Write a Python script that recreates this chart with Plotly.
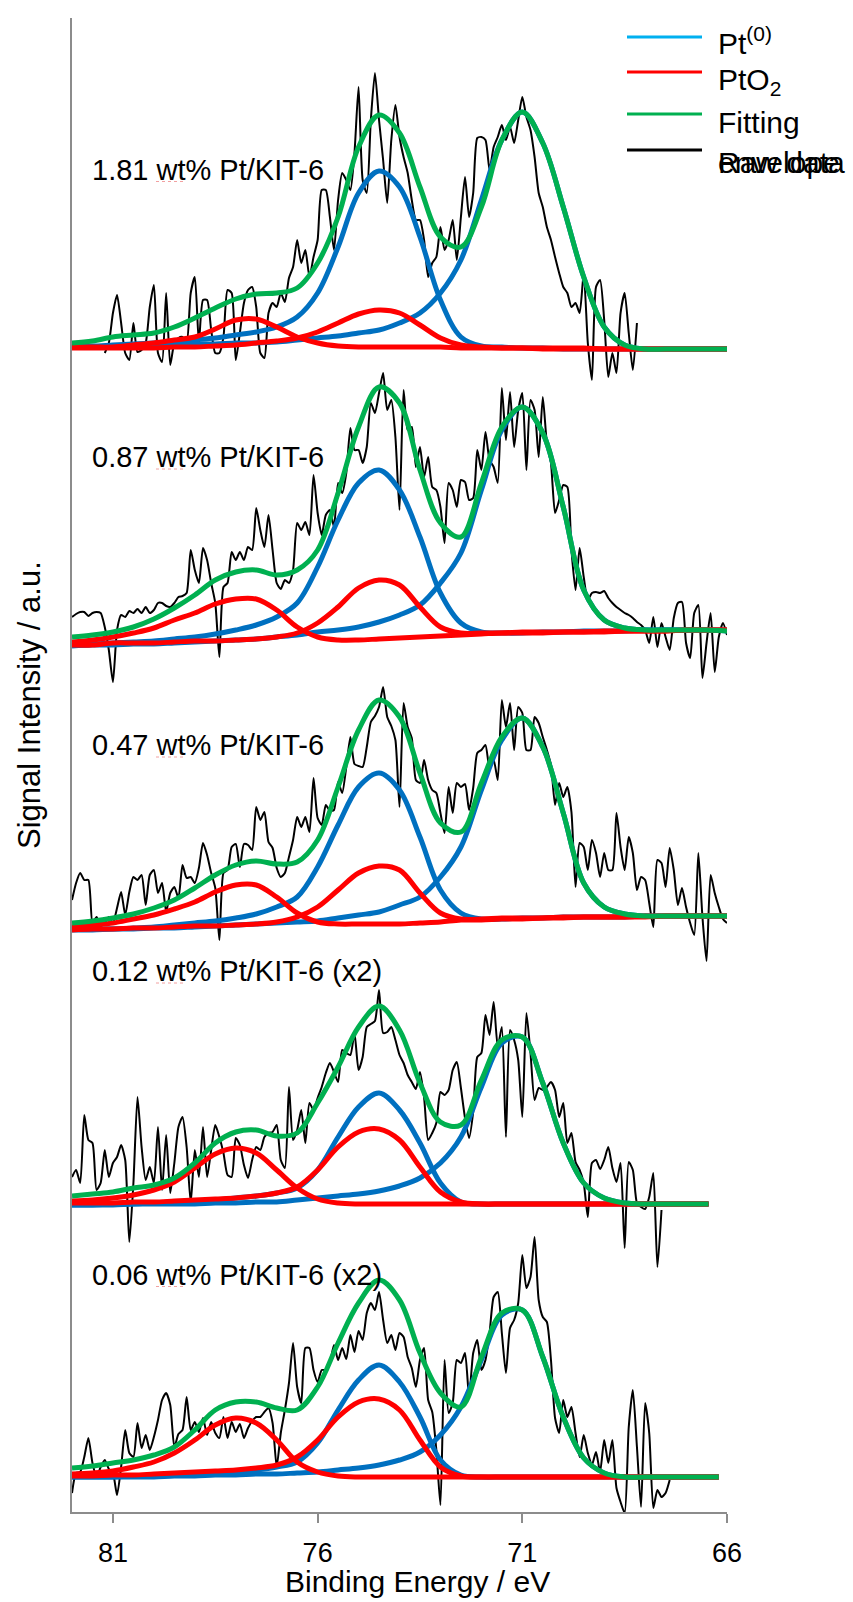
import plotly.graph_objects as go

# ---------------- data ----------------
panel_labels = ["1.81 wt% Pt/KIT-6", "0.87 wt% Pt/KIT-6", "0.47 wt% Pt/KIT-6",
                "0.12 wt% Pt/KIT-6 (x2)", "0.06 wt% Pt/KIT-6 (x2)"]
panel_offsets = [1163, 882, 596, 308, 35]
label_y = [1342.5, 1055, 767, 541, 237.5]

x_ticks = [81, 76, 71, 66]

fit_grid = [82.0, 81.5, 81.0, 80.5, 80.0, 79.5, 79.0, 78.5, 78.0, 77.5, 77.0,
            76.5, 76.0, 75.5, 75.0, 74.5, 74.0, 73.5, 73.0, 72.5, 72.0, 71.5,
            71.0, 70.5, 70.0, 69.5, 69.0, 68.5, 68.0, 67.5, 67.0, 66.5, 66.0]
fit_end = [66.0, 66.0, 66.0, 66.45, 66.2]

raw_start = [81.2, 82.0, 82.0, 82.0, 82.0]
raw_step = 0.1

# Panel 1 : 1.81 wt%
fit1_pt_a = [3, 3, 4, 5, 6, 7, 9, 11, 14, 17, 22, 32, 56, 102, 156, 178, 162, 112, 49, 12, 3, 2, 1, 1, 0, 0, 0, 0, 0, 0, 0, 0, 0]
fit1_pt_b = [2, 2, 3, 3, 4, 4, 5, 5, 6, 6, 7, 9, 11, 13, 16, 19, 26, 36, 56, 89, 149, 209, 237, 206, 142, 72, 22, 4, 0, 0, 0, 0, 0]
fit1_ox_a = [2, 2, 2, 4, 6, 9, 12, 20, 29, 30, 22, 12, 6, 3, 2, 2, 2, 2, 2, 1, 1, 1, 1, 1, 1, 1, 0, 0, 0, 0, 0, 0, 0]
fit1_ox_b = [1, 1, 1, 1, 1, 2, 2, 3, 4, 6, 8, 11, 17, 26, 35, 39, 36, 24, 11, 4, 2, 1, 1, 0, 0, 0, 0, 0, 0, 0, 0, 0, 0]
fit1_env = [6, 8, 12, 14, 16, 22, 31, 41, 50, 55, 56, 61, 86, 132, 202, 234, 216, 162, 112, 102, 142, 209, 237, 206, 142, 72, 22, 4, 0, 0, 0, 0, 0]
raw1 = [-4, 6, 36, 54, 26, -4, -11, 26, -3, -1,
        6, 42, 64, -4, -13, 56, -16, 6, 11, 12,
        6, 56, 72, 6, 49, 49, 19, -4, -4, 12,
        59, 56, -11, 16, 46, 59, 62, 42, -4, -9,
        36, 46, 42, 56, 47, 71, 82, 109, 86, 99,
        72, 92, 109, 159, 159, 132, 99, 149, 176, 169,
        159, 196, 262, 169, 156, 229, 276, 229, 189, 146,
        209, 244, 212, 192, 176, 149, 129, 129, 109, 72,
        86, 92, 122, 99, 109, 129, 89, 132, 172, 132,
        156, 211, 212, 209, 179, 202, 212, 224, 209, 222,
        206, 229, 252, 232, 219, 192, 156, 142, 122, 109,
        92, 76, 62, 56, 42, 46, 36, 76, 6, -31,
        62, 69, 29, -28, -4, -24, 36, 56, 16, -21,
        26]

# Panel 2 : 0.87 wt%
fit2_pt_a = [-15, -14, -13, -12, -11, -9, -7, -4, 0, 5, 13, 27, 63, 110, 147, 160, 140, 93, 37, 7, -2, -3, -3, -2, -2, -1, -1, -1, 0, 0, 0, 0, 0]
fit2_pt_b = [-16, -15, -15, -14, -14, -13, -12, -11, -10, -9, -7, -5, -2, 0, 3, 8, 15, 25, 47, 77, 140, 200, 223, 197, 123, 40, 10, 2, 0, 0, 0, 0, -1]
fit2_ox_a = [-12, -10, -7, -3, 2, 10, 17, 26, 31, 31, 20, 3, -7, -10, -10, -9, -8, -7, -6, -5, -4, -3, -3, -3, -2, -2, -2, -1, -1, -1, 0, 0, 0]
fit2_ox_b = [-15, -15, -13, -13, -13, -12, -11, -11, -10, -9, -7, -3, 7, 23, 42, 50, 45, 23, 3, -3, -3, -3, -2, -2, -2, -2, -1, -1, -1, -1, 0, 0, 0]
fit2_env = [-7, -5, -2, 3, 11, 22, 35, 50, 58, 60, 55, 60, 80, 137, 203, 243, 227, 160, 107, 93, 147, 203, 223, 197, 123, 40, 10, 2, 0, 0, 0, 0, -1]
raw2 = [13, 16, 18, 18, 14, 17, 18, 17, 3, -20,
        -52, 0, 15, 13, 19, 17, 21, 17, 23, 17,
        20, 27, 27, 24, 23, 27, 33, 34, 37, 80,
        60, 47, 82, 70, 47, 27, -27, 43, 47, 78,
        70, 78, 70, 83, 80, 122, 100, 83, 115, 80,
        47, 41, 50, 47, 60, 107, 100, 108, 95, 155,
        117, 95, 115, 120, 103, 147, 137, 157, 202, 180,
        180, 167, 183, 227, 217, 237, 257, 220, 230, 193,
        120, 240, 200, 203, 163, 183, 153, 173, 143, 140,
        123, 87, 147, 140, 123, 150, 148, 130, 132, 180,
        160, 198, 170, 163, 147, 242, 190, 238, 183, 220,
        237, 160, 230, 220, 173, 233, 187, 167, 117, 130,
        145, 143, 80, 40, 82, 53, 30, 37, 38, 37,
        39, 32, 27, 23, 20, 17, 15, 12, 8, 5,
        0, -13, 13, -17, 7, -7, -20, 12, 27, 28,
        -13, -28, 17, 25, -48, -13, 17, -42, -7, 7,
        -5]

# Panel 3 : 0.47 wt%
fit3_pt_a = [-13, -13, -13, -12, -11, -9, -7, -5, -2, 2, 9, 19, 49, 91, 129, 143, 126, 79, 26, 3, -3, -3, -2, -2, -1, -1, -1, -1, 0, 0, 0, 0, 0]
fit3_pt_b = [-14, -14, -13, -13, -12, -12, -11, -10, -9, -8, -7, -6, -5, -2, 1, 4, 11, 19, 39, 69, 126, 176, 198, 169, 103, 33, 9, 2, 0, 0, 0, 0, 0]
fit3_ox_a = [-11, -9, -7, -3, 1, 7, 14, 24, 31, 31, 19, 3, -6, -8, -8, -8, -8, -7, -6, -4, -4, -3, -3, -2, -2, -1, -1, -1, -1, 0, 0, 0, 0]
fit3_ox_b = [-14, -13, -13, -12, -12, -11, -10, -10, -9, -8, -6, -1, 9, 26, 43, 50, 46, 23, 3, -3, -3, -2, -2, -2, -1, -1, -1, -1, 0, 0, 0, 0, 0]
fit3_env = [-7, -5, -2, 2, 8, 16, 28, 41, 51, 55, 52, 54, 76, 129, 186, 216, 199, 143, 93, 84, 133, 179, 198, 169, 103, 33, 9, 2, 0, 0, 0, 0, 0]
raw3 = [16, 33, 43, 36, 36, -7, -1, -10, -7, -1,
        -7, 8, 24, 1, 24, 39, 36, 41, 11, 41,
        46, 23, 33, 4, 23, 29, 18, 51, 38, 39,
        33, 48, 73, 61, 43, 28, -24, 43, 46, 69,
        72, 49, 72, 71, 66, 109, 96, 104, 74, 68,
        48, 39, 43, 59, 76, 99, 89, 99, 84, 138,
        98, 91, 111, 105, 106, 134, 123, 149, 179, 152,
        150, 149, 169, 194, 200, 209, 229, 199, 190, 176,
        109, 213, 189, 178, 136, 133, 156, 136, 126, 123,
        103, 83, 129, 103, 133, 129, 132, 106, 128, 163,
        166, 171, 148, 156, 136, 216, 189, 213, 166, 209,
        203, 166, 166, 199, 193, 179, 166, 151, 111, 133,
        119, 129, 104, 29, 73, 69, 46, 76, 63, 39,
        63, 46, 46, 103, 69, 46, 79, 63, 26, 39,
        36, 13, -11, 56, 53, 29, 68, 46, 11, 28,
        9, -7, -19, 63, -1, -45, 41, 23, 9, -3,
        -7]

# Panel 4 : 0.12 wt% (x2)
fit4_pt_a = [-1, -1, 0, 0, 1, 2, 3, 4, 6, 8, 11, 16, 34, 67, 97, 111, 94, 61, 21, 2, 0, 0, 0, 0, 0, 0, 0, 0, 0, 0, 0, 0, 0]
fit4_pt_b = [-1, -1, -1, 0, 0, 0, 0, 1, 1, 2, 2, 4, 6, 8, 10, 13, 18, 26, 41, 67, 117, 161, 167, 121, 61, 21, 6, 1, 0, 0, 0, 0, 0]
fit4_ox_a = [3, 4, 6, 9, 14, 22, 36, 50, 56, 51, 34, 16, 5, 1, 0, 0, 0, 0, 0, 0, 0, 0, 0, 0, 0, 0, 0, 0, 0, 0, 0, 0, 0]
fit4_ox_b = [1, 1, 1, 2, 2, 3, 4, 5, 6, 8, 11, 17, 34, 57, 72, 75, 64, 37, 12, 2, 0, 0, 0, 0, 0, 0, 0, 0, 0, 0, 0, 0, 0]
fit4_env = [8, 10, 12, 16, 19, 26, 41, 61, 72, 74, 68, 71, 101, 137, 177, 198, 174, 121, 82, 79, 124, 164, 167, 121, 61, 21, 6, 1, 0, 0, 0, 0, 0]
raw4 = [27, 34, 21, 89, 64, 61, 14, 21, 54, 27,
        41, 47, 59, 44, -38, 21, 107, 57, 24, 37,
        21, 77, 14, 69, 11, 41, 77, 87, 57, 1,
        54, 27, 77, 27, 54, 79, 67, 51, 29, 27,
        66, 59, 39, 26, 44, 57, 54, 67, 71, 72,
        79, 44, 36, 117, 64, 74, 94, 61, 101, 94,
        106, 117, 131, 141, 132, 122, 154, 151, 149, 171,
        134, 147, 177, 180, 183, 214, 171, 172, 177, 164,
        149, 141, 129, 122, 115, 132, 107, 64, 71, 81,
        112, 109, 114, 134, 142, 116, 86, 66, 92, 147,
        151, 189, 169, 202, 157, 177, 67, 174, 164, 144,
        87, 191, 151, 104, 116, 114, 117, 122, 114, 87,
        101, 61, 71, 42, 34, 21, -13, 41, 44, 35,
        44, 57, 36, 22, 41, -44, 42, 34, 1, -3,
        -5, 7, 31, -63, -6]

# Panel 5 : 0.06 wt% (x2)
fit5_pt_a = [0, 0, 0, 1, 1, 2, 3, 4, 5, 7, 10, 15, 34, 67, 97, 112, 95, 60, 17, 2, 0, 0, 0, 0, 0, 0, 0, 0, 0, 0, 0, 0, 0]
fit5_pt_b = [0, 0, 0, 0, 0, 1, 1, 2, 2, 3, 3, 4, 5, 7, 9, 12, 17, 25, 42, 70, 117, 162, 167, 120, 60, 19, 4, 0, 0, 0, 0, 0, 0]
fit5_ox_a = [3, 4, 6, 10, 15, 24, 37, 52, 59, 54, 37, 15, 5, 1, 0, 0, 0, 0, 0, 0, 0, 0, 0, 0, 0, 0, 0, 0, 0, 0, 0, 0, 0]
fit5_ox_b = [1, 1, 2, 2, 3, 4, 5, 6, 7, 9, 12, 20, 37, 60, 75, 78, 67, 37, 10, 1, 0, 0, 0, 0, 0, 0, 0, 0, 0, 0, 0, 0, 0]
fit5_env = [9, 11, 14, 17, 22, 30, 47, 67, 75, 75, 69, 67, 90, 134, 174, 197, 177, 124, 84, 70, 120, 164, 167, 120, 60, 19, 4, 0, 0, 0, 0, 0, 0]
raw5 = [-16, 4, 5, 20, 39, 14, 0, 10, 17, 8,
        4, -18, 10, 47, 24, 20, 54, 29, 42, 27,
        40, 57, 77, 84, 72, 30, 43, 47, 80, 47,
        55, 45, 59, 42, 55, 44, 39, 60, 39, 55,
        45, 53, 39, 49, 56, 60, 60, 65, 69, 54,
        10, 44, 67, 94, 134, 90, 74, 129, 129, 107,
        95, 107, 107, 114, 132, 117, 129, 118, 142, 125,
        146, 137, 164, 174, 167, 185, 157, 134, 142, 127,
        144, 140, 120, 109, 90, 117, 129, 77, 65, 27,
        -28, 117, 64, 74, 117, 114, 124, 80, 124, 137,
        107, 117, 144, 180, 185, 144, 104, 149, 157, 174,
        222, 189, 200, 240, 177, 160, 155, 117, 59, 44,
        77, 60, 70, 44, 20, 42, 24, 12, 25, 5,
        37, 14, 37, -11, -25, -36, 50, 87, 30, -30,
        74, 44, -31, -13, -20, -16, -3]

series_names = ["Pt<sup>(0)</sup>", "PtO<sub>2</sub>", "Fitting", "Raw data"]
overlap_text = "envelope"

# ---------------- styles ----------------
C_PT = "#0070C0"
C_PT_LEG = "#00B0F0"
C_OX = "#FF0000"
C_ENV = "#00B050"
C_RAW = "#000000"
AXIS_GREY = "#8C8C8C"
FONT = "Liberation Sans, Arial, sans-serif"

panels = [
    (raw1, fit1_pt_a, fit1_pt_b, fit1_ox_a, fit1_ox_b, fit1_env),
    (raw2, fit2_pt_a, fit2_pt_b, fit2_ox_a, fit2_ox_b, fit2_env),
    (raw3, fit3_pt_a, fit3_pt_b, fit3_ox_a, fit3_ox_b, fit3_env),
    (raw4, fit4_pt_a, fit4_pt_b, fit4_ox_a, fit4_ox_b, fit4_env),
    (raw5, fit5_pt_a, fit5_pt_b, fit5_ox_a, fit5_ox_b, fit5_env),
]

fig = go.Figure()
for k, (raw, pa, pb, oa, ob, env) in enumerate(panels):
    off = panel_offsets[k]
    xr = [round(raw_start[k] - raw_step * i, 2) for i in range(len(raw))]
    xf = fit_grid[:-1] + [fit_end[k]]
    fig.add_trace(go.Scatter(x=xr, y=[v + off for v in raw], mode="lines",
                             line=dict(color=C_RAW, width=2, shape="spline", smoothing=0.6),
                             showlegend=False, hoverinfo="skip"))
    for comp, col in ((pa, C_PT), (pb, C_PT), (oa, C_OX), (ob, C_OX), (env, C_ENV)):
        fig.add_trace(go.Scatter(x=xf, y=[v + off for v in comp], mode="lines",
                                 line=dict(color=col, width=5, shape="spline", smoothing=1.0),
                                 showlegend=False, hoverinfo="skip"))

W, H = 853, 1602
ML, MR, MT, MB = 72, 126, 18, 90
PW, PH = W - ML - MR, H - MT - MB


def px_to_paper_x(px):
    return (px - ML) / PW


def px_to_paper_y(py):
    return (H - MB - py) / PH


annotations = []
shapes = []
for k, lab in enumerate(panel_labels):
    annotations.append(dict(x=81.55, y=label_y[k], xref="x", yref="y", text=lab,
                            showarrow=False, xanchor="left", yanchor="middle",
                            font=dict(size=29, color="black", family=FONT)))
    # faint spell-check underline under "wt"
    shapes.append(dict(type="line", xref="paper", yref="y",
                       x0=px_to_paper_x(156), x1=px_to_paper_x(185),
                       y0=label_y[k] - 12, y1=label_y[k] - 12,
                       line=dict(color="#F2A0A0", width=1, dash="dot")))

# manual legend
leg_line_y = [37, 72, 114, 150]
leg_text_y = [41, 82, 123, 163]
leg_colors = [C_PT_LEG, C_OX, C_ENV, C_RAW]
for i, name in enumerate(series_names):
    shapes.append(dict(type="line", xref="paper", yref="paper",
                       x0=px_to_paper_x(627), x1=px_to_paper_x(702),
                       y0=px_to_paper_y(leg_line_y[i]), y1=px_to_paper_y(leg_line_y[i]),
                       line=dict(color=leg_colors[i], width=3)))
    annotations.append(dict(x=px_to_paper_x(716), y=px_to_paper_y(leg_text_y[i]),
                            xref="paper", yref="paper", text=name, showarrow=False,
                            xanchor="left", yanchor="middle",
                            font=dict(size=30, color="black", family=FONT)))
annotations.append(dict(x=px_to_paper_x(716), y=px_to_paper_y(leg_text_y[3]),
                        xref="paper", yref="paper", text=overlap_text, showarrow=False,
                        xanchor="left", yanchor="middle",
                        font=dict(size=30, color="black", family=FONT)))

# axis titles
annotations.append(dict(x=px_to_paper_x(417), y=px_to_paper_y(1582), xref="paper", yref="paper",
                        text="Binding Energy / eV", showarrow=False,
                        xanchor="center", yanchor="middle",
                        font=dict(size=30, color="black", family=FONT)))
annotations.append(dict(x=px_to_paper_x(30), y=px_to_paper_y(705), xref="paper", yref="paper",
                        text="Signal Intensity / a.u.", showarrow=False, textangle=-90,
                        xanchor="center", yanchor="middle",
                        font=dict(size=31, color="black", family=FONT)))

fig.update_layout(
    width=W, height=H,
    margin=dict(l=ML, r=MR, t=MT, b=MB),
    paper_bgcolor="white", plot_bgcolor="white",
    font=dict(family=FONT, color="black"),
    showlegend=False,
    xaxis=dict(range=[82, 66], tickvals=x_ticks, ticktext=[str(t) for t in x_ticks],
               showline=True, linecolor=AXIS_GREY, linewidth=1.5,
               ticks="outside", ticklen=9, tickwidth=1.5, tickcolor=AXIS_GREY,
               tickfont=dict(size=27, color="black", family=FONT),
               ticklabelstandoff=7,
               showgrid=False, zeroline=False),
    yaxis=dict(range=[0, PH], showline=True, linecolor=AXIS_GREY, linewidth=1.5,
               showticklabels=False, ticks="", showgrid=False, zeroline=False),
    annotations=annotations,
    shapes=shapes,
)

fig.write_html("out.html")
